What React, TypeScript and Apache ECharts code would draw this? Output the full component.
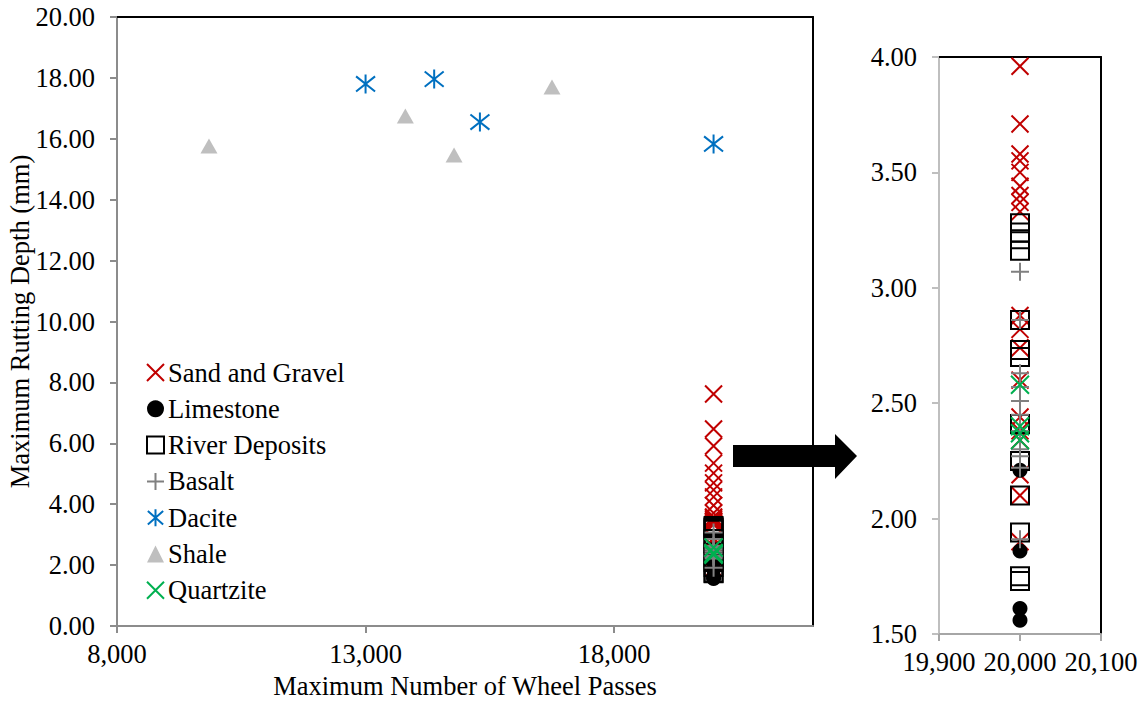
import React, { useEffect, useRef } from "react";
import * as echarts from "echarts";

// ---- data ----
const CLUSTER_PASSES = 20000;
const sandGravelDepth = [7.62, 6.47, 5.91, 5.35, 5.02, 4.7, 4.47, 4.24, 3.96, 3.71, 3.58, 3.55, 3.5, 3.44, 3.4, 3.37, 3.33, 2.88, 2.82, 2.74, 2.6, 2.44, 2.38, 2.34, 2.19, 2.1, 1.9];
const limestoneDepth = [2.21, 1.86, 1.61, 1.56];
const riverDepositsDepth = [3.28, 3.24, 3.21, 3.16, 2.86, 2.73, 2.7, 2.41, 2.25, 2.1, 1.94, 1.75, 1.73];
const basaltDepth = [3.07, 2.86, 2.63, 2.57, 2.51, 2.45, 2.38, 2.3, 2.27, 2.22, 1.91];
const quartziteDepth = [2.58, 2.4, 2.37, 2.34];
const dacitePasses = [13000, 14380, 15300, 20000];
const daciteDepth = [17.8, 17.96, 16.55, 15.83];
const shalePasses = [9850, 13800, 14780, 16750];
const shaleDepth = [15.76, 16.75, 15.47, 17.7];

const FONT = "'Liberation Serif', 'Times New Roman', serif";
const X_PATH = "path://M0,0L20,20M20,0L0,20";
const PLUS_PATH = "path://M10,0L10,20M0,10L20,10";
const STAR_PATH = "path://M1,2L19,18M19,2L1,18M10,0L10,20";

const cluster = (arr: number[]) => arr.map((v) => [CLUSTER_PASSES, v]);
const pairs = (xs: number[], ys: number[]) => xs.map((x, i) => [x, ys[i]]);

type Def = { name: string; data: number[][]; symbol: string; size: number | number[]; style: any };

const defs: Def[] = [
  { name: "Sand and Gravel", data: cluster(sandGravelDepth), symbol: X_PATH, size: 17,
    style: { color: "#c00000", borderColor: "#c00000", borderWidth: 2 } },
  { name: "Limestone", data: cluster(limestoneDepth), symbol: "circle", size: 15,
    style: { color: "#000", borderWidth: 0 } },
  { name: "River Deposits", data: cluster(riverDepositsDepth), symbol: "rect", size: 18,
    style: { color: "rgba(0,0,0,0)", borderColor: "#000", borderWidth: 2 } },
  { name: "Basalt", data: cluster(basaltDepth), symbol: PLUS_PATH, size: 18,
    style: { color: "#808080", borderColor: "#808080", borderWidth: 2 } },
  { name: "Dacite", data: pairs(dacitePasses, daciteDepth), symbol: STAR_PATH, size: 19,
    style: { color: "#0070c0", borderColor: "#0070c0", borderWidth: 2 } },
  { name: "Shale", data: pairs(shalePasses, shaleDepth), symbol: "triangle", size: [17, 15],
    style: { color: "#bfbfbf", borderWidth: 0 } },
  { name: "Quartzite", data: cluster(quartziteDepth), symbol: X_PATH, size: 18,
    style: { color: "#00b050", borderColor: "#00b050", borderWidth: 2 } },
];

const txt = { fontFamily: FONT, fontSize: 26.5, color: "#000" };
const fmtThousands = (v: number) => v.toLocaleString("en-US");
const fmt2 = (v: number) => v.toFixed(2);

const frameAxis = (gridIndex: number, position: string, min: number, max: number) => ({
  type: "value", gridIndex, position, min, max,
  axisLine: { show: true, onZero: false, lineStyle: { color: "#000", width: 2 } },
  axisTick: { show: false }, axisLabel: { show: false }, splitLine: { show: false },
});

export default function App() {
  const ref = useRef<HTMLDivElement>(null);
  useEffect(() => {
    if (!ref.current) return;
    const chart = echarts.init(ref.current, null, { renderer: "svg" });
    const series: any[] = [];
    [0, 1].forEach((g) => {
      defs.forEach((d) => {
        series.push({
          type: "scatter", name: d.name, xAxisIndex: g, yAxisIndex: g,
          data: d.data, symbol: d.symbol, symbolSize: d.size, itemStyle: { ...d.style, opacity: 1 },
          clip: true, emphasis: { disabled: true },
        });
      });
    });
    const baseAxisLine = (c: string) => ({ show: true, onZero: false, lineStyle: { color: c, width: 2 } });
    chart.setOption({
      animation: false,
      backgroundColor: "#fff",
      grid: [
        { left: 117, top: 17, right: 330, bottom: 80, show: false, containLabel: false, outerBoundsMode: "none" },
        { left: 939, top: 57, right: 42, bottom: 72, show: false, containLabel: false, outerBoundsMode: "none" },
      ],
      xAxis: [
        { type: "value", gridIndex: 0, min: 8000, max: 22000, interval: 5000, position: "bottom",
          axisLine: baseAxisLine("#8c8c8c"), axisTick: { show: true, length: 7, lineStyle: { color: "#8c8c8c", width: 2 } },
          axisLabel: { ...txt, formatter: fmtThousands, showMaxLabel: false, margin: 14 }, splitLine: { show: false },
          name: "Maximum Number of Wheel Passes", nameLocation: "middle", nameGap: 46, nameMoveOverlap: false, nameTextStyle: txt },
        { type: "value", gridIndex: 1, min: 19900, max: 20100, interval: 100, position: "bottom",
          axisLine: baseAxisLine("#a6a6a6"), axisTick: { show: true, length: 7, lineStyle: { color: "#a6a6a6", width: 2 } },
          axisLabel: { ...txt, formatter: fmtThousands, margin: 14 }, splitLine: { show: false } },
        frameAxis(0, "top", 8000, 22000),
        frameAxis(1, "top", 19900, 20100),
      ],
      yAxis: [
        { type: "value", gridIndex: 0, min: 0, max: 20, interval: 2, position: "left",
          axisLine: baseAxisLine("#8c8c8c"), axisTick: { show: true, length: 7, lineStyle: { color: "#8c8c8c", width: 2 } },
          axisLabel: { ...txt, formatter: fmt2, margin: 22 }, splitLine: { show: false },
          name: "Maximum Rutting Depth (mm)", nameLocation: "middle", nameGap: 84, nameRotate: 90, nameMoveOverlap: false, nameTextStyle: txt },
        { type: "value", gridIndex: 1, min: 1.5, max: 4, interval: 0.5, position: "left",
          axisLine: baseAxisLine("#bfbfbf"), axisTick: { show: true, length: 7, lineStyle: { color: "#bfbfbf", width: 2 } },
          axisLabel: { ...txt, formatter: fmt2, margin: 22 }, splitLine: { show: false } },
        frameAxis(0, "right", 0, 20),
        frameAxis(1, "right", 1.5, 4),
      ],
      legend: {
        orient: "vertical", left: 146, top: 359, padding: 0, itemWidth: 17, itemHeight: 17, itemGap: 9.3,
        selectedMode: false, textStyle: { ...txt, lineHeight: 26, padding: [0, 0, 0, -1] },
        data: defs.map((d) => ({ name: d.name, icon: d.symbol, itemStyle: { ...d.style, opacity: 1 } })),
      },
      graphic: [
        { type: "polygon", z: 10,
          shape: { points: [[733, 445], [835, 445], [835, 434], [857, 456], [835, 479], [835, 467], [733, 467]] },
          style: { fill: "#000" } },
      ],
      series,
    });
    return () => chart.dispose();
  }, []);
  return <div ref={ref} style={{ position: "fixed", left: 0, top: 0, width: 1143, height: 706 }} />;
}
